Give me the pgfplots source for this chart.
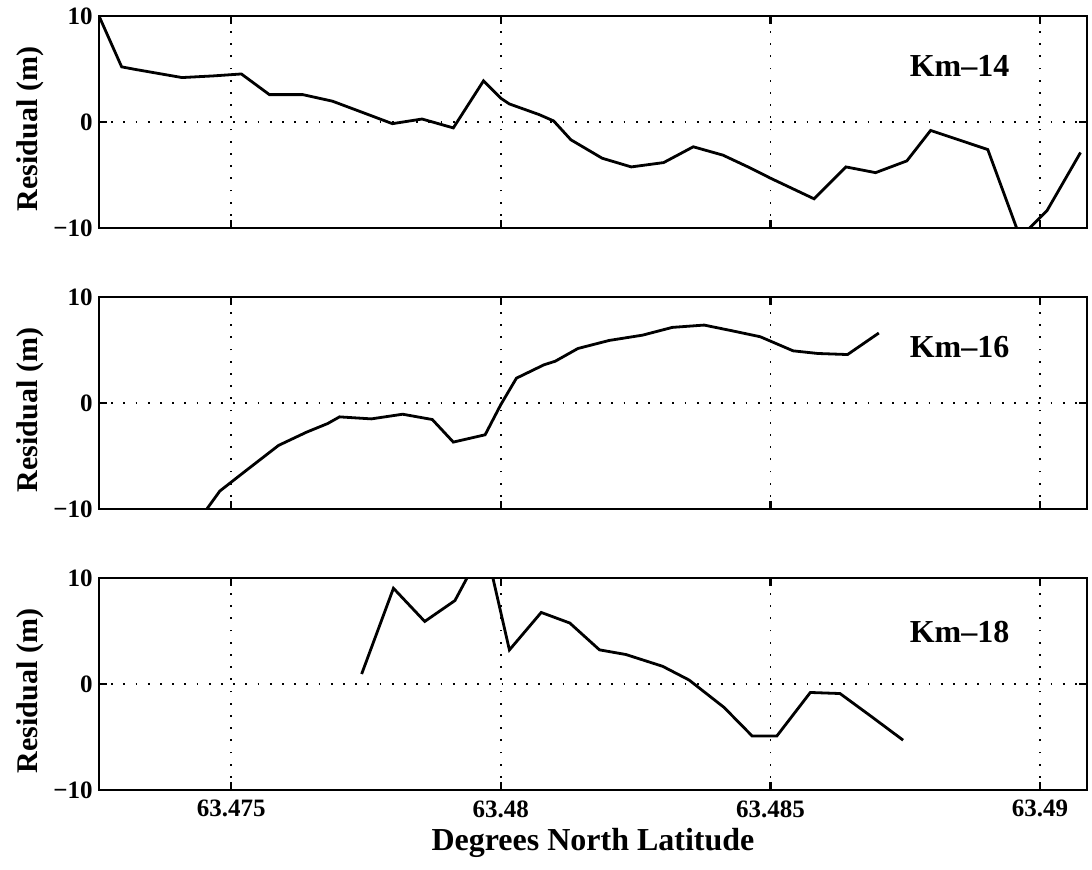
\documentclass[border=0pt]{standalone}
\usepackage{pgfplots}
\pgfplotsset{compat=1.18}
\usepackage{fontspec}
\setmainfont{Liberation Serif}

\pgfplotsset{
  resid/.style={
    scale only axis, width=494pt, height=106pt,
    xmin=63.47255, xmax=63.49087, ymin=-10, ymax=10,
    xtick={63.475,63.48,63.485,63.49},
    xticklabels={},
    ytick={-10,0,10}, yticklabels={−10,0,10},
    xmajorgrids, ymajorgrids,
    grid style={black, line width=0.9pt, dash pattern=on 0.9pt off 5.2pt},
    axis line style={line width=1.2pt},
    major tick length=4pt,
    tick style={black, line width=1.2pt},
    tick align=inside,
    ticklabel style={font=\fontsize{12.5}{14}\selectfont\bfseries, inner sep=0pt},
    yticklabel style={xshift=-3pt},
    xticklabel style={yshift=-5pt},
    ylabel={Residual (m)},
    ylabel style={font=\fontsize{15}{17}\selectfont\bfseries, at={(axis description cs:-0.0698,0.467)}, anchor=center},
  },
  resline/.style={black, line width=1.4pt, no markers},
}
\tikzset{kmlab/.style={font=\fontsize{16}{18}\selectfont\bfseries, anchor=center}}

\begin{document}
\begin{tikzpicture}
\useasboundingbox (0,0) rectangle (546pt,435pt);

% Km-14
\begin{axis}[resid, at={(49.5pt,321pt)}, anchor=south west]
\addplot[resline] coordinates {
(63.47255,10.0) (63.47297,5.2) (63.47321,4.97) (63.47409,4.19) (63.47468,4.35)
(63.47519,4.53) (63.47571,2.58) (63.47633,2.58) (63.47688,1.96) (63.47750,0.78)
(63.47799,-0.16) (63.47854,0.28) (63.47912,-0.56) (63.47968,3.88) (63.48000,2.24)
(63.48016,1.7) (63.48071,0.7) (63.48098,0.1) (63.48130,-1.68) (63.48188,-3.42)
(63.48242,-4.24) (63.48302,-3.83) (63.48357,-2.34) (63.48412,-3.13) (63.48461,-4.3)
(63.48500,-5.3) (63.48581,-7.25) (63.48640,-4.24) (63.48695,-4.78) (63.48753,-3.67)
(63.48797,-0.8) (63.48903,-2.6) (63.48963,-10.9) (63.49013,-8.35) (63.49075,-2.88)
};
\node[kmlab] at (axis description cs:0.871,0.764) {Km--14};
\end{axis}

% Km-16
\begin{axis}[resid, at={(49.5pt,180.5pt)}, anchor=south west]
\addplot[resline] coordinates {
(63.47420,-11.0) (63.47455,-10.0) (63.47479,-8.31) (63.47523,-6.56) (63.47588,-4.0)
(63.47640,-2.75) (63.47679,-1.94) (63.47701,-1.31) (63.47760,-1.5) (63.47818,-1.06)
(63.47873,-1.56) (63.47912,-3.69) (63.47971,-3.0) (63.48000,-0.16) (63.48029,2.34)
(63.48080,3.6) (63.48101,3.94) (63.48143,5.14) (63.48201,5.9) (63.48263,6.4)
(63.48318,7.13) (63.48377,7.35) (63.48429,6.81) (63.48481,6.25) (63.48542,4.92)
(63.48588,4.67) (63.48643,4.57) (63.48701,6.6)
};
\node[kmlab] at (axis description cs:0.871,0.764) {Km--16};
\end{axis}

% Km-18
\begin{axis}[resid, at={(49.5pt,40pt)}, anchor=south west,
  xticklabels={63.475,63.48,63.485,63.49},
  xlabel={Degrees North Latitude},
  xlabel style={font=\fontsize{16}{18}\selectfont\bfseries, at={(axis description cs:0.5,0)}, anchor=center, yshift=-26.5pt},
]
\addplot[resline] coordinates {
(63.47742,0.94) (63.47801,9.03) (63.47859,5.9) (63.47915,7.87) (63.47971,13.2)
(63.48016,3.21) (63.48075,6.75) (63.48128,5.75) (63.48183,3.22) (63.48232,2.78)
(63.48300,1.67) (63.48349,0.38) (63.48414,-2.21) (63.48466,-4.9) (63.48512,-4.9)
(63.48574,-0.8) (63.48629,-0.9) (63.48688,-3.1) (63.48746,-5.3)
};
\node[kmlab] at (axis description cs:0.871,0.745) {Km--18};
\end{axis}
\end{tikzpicture}
\end{document}
